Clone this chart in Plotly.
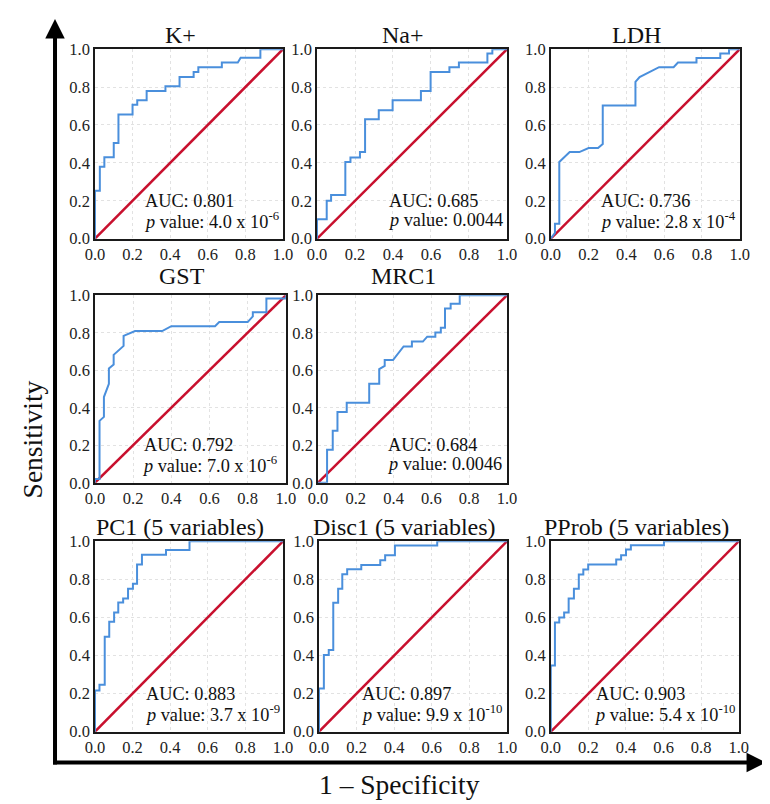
import plotly.graph_objects as go

# ---------------- data ----------------
panel_titles = ["K+", "Na+", "LDH", "GST", "MRC1",
                "PC1 (5 variables)", "Disc1 (5 variables)", "PProb (5 variables)"]
auc_values = ["0.801", "0.685", "0.736", "0.792", "0.684", "0.883", "0.897", "0.903"]
p_values = ["4.0 x 10<sup>-6</sup>", "0.0044", "2.8 x 10<sup>-4</sup>", "7.0 x 10<sup>-6</sup>",
            "0.0046", "3.7 x 10<sup>-9</sup>", "9.9 x 10<sup>-10</sup>", "5.4 x 10<sup>-10</sup>"]

k_fpr = [0, 0, 0.026, 0.026, 0.05, 0.05, 0.1, 0.1, 0.125, 0.125, 0.2, 0.2, 0.225, 0.225,
         0.275, 0.275, 0.375, 0.375, 0.45, 0.45, 0.525, 0.525, 0.55, 0.55, 0.675, 0.675,
         0.76, 0.775, 0.88, 0.88, 1.0]
k_tpr = [0, 0.253, 0.253, 0.38, 0.38, 0.43, 0.43, 0.505, 0.505, 0.655, 0.655, 0.707, 0.707, 0.73,
         0.73, 0.78, 0.78, 0.805, 0.805, 0.853, 0.853, 0.88, 0.88, 0.905, 0.905, 0.93,
         0.93, 0.955, 0.955, 1.0, 1.0]

na_fpr = [0, 0, 0.051, 0.051, 0.074, 0.074, 0.149, 0.149, 0.176, 0.176, 0.226, 0.226, 0.253, 0.253,
          0.325, 0.325, 0.398, 0.398, 0.547, 0.547, 0.598, 0.598, 0.697, 0.697, 0.747, 0.747,
          0.897, 0.897, 0.923, 0.923, 1.0]
na_tpr = [0, 0.103, 0.103, 0.2, 0.2, 0.23, 0.23, 0.405, 0.405, 0.428, 0.428, 0.457, 0.457, 0.63,
          0.63, 0.678, 0.678, 0.73, 0.73, 0.78, 0.78, 0.88, 0.88, 0.905, 0.905, 0.93,
          0.93, 0.978, 0.978, 1.0, 1.0]

ldh_fpr = [0, 0.022, 0.022, 0.045, 0.045, 0.1, 0.151, 0.2, 0.25, 0.275, 0.275, 0.448, 0.448,
           0.47, 0.573, 0.65, 0.673, 0.771, 0.771, 0.897, 0.897, 0.943, 0.943, 1.0]
ldh_tpr = [0, 0.03, 0.078, 0.078, 0.405, 0.457, 0.457, 0.478, 0.478, 0.5, 0.703, 0.703, 0.828,
           0.853, 0.905, 0.905, 0.93, 0.93, 0.953, 0.953, 0.978, 0.978, 1.0, 1.0]

gst_fpr = [0, 0, 0.024, 0.024, 0.047, 0.047, 0.073, 0.073, 0.098, 0.098, 0.15, 0.15, 0.21,
           0.352, 0.4, 0.629, 0.651, 0.80, 0.827, 0.827, 0.898, 0.898, 1.0, 1.0]
gst_tpr = [0, 0.02, 0.02, 0.33, 0.351, 0.457, 0.527, 0.609, 0.63, 0.682, 0.73, 0.783, 0.809,
           0.809, 0.835, 0.835, 0.857, 0.857, 0.887, 0.91, 0.91, 0.983, 0.983, 1.0]

mrc_fpr = [0, 0.048, 0.048, 0.078, 0.078, 0.103, 0.103, 0.152, 0.152, 0.271, 0.271, 0.324, 0.324,
           0.353, 0.353, 0.397, 0.453, 0.497, 0.497, 0.555, 0.578, 0.621, 0.621, 0.65, 0.65,
           0.672, 0.672, 0.702, 0.702, 0.75, 0.75, 1.0]
mrc_tpr = [0, 0, 0.176, 0.176, 0.277, 0.277, 0.377, 0.377, 0.427, 0.427, 0.528, 0.528, 0.606,
           0.623, 0.654, 0.654, 0.727, 0.727, 0.753, 0.753, 0.779, 0.779, 0.801, 0.801, 0.827,
           0.827, 0.929, 0.929, 0.955, 0.955, 1.0, 1.0]

pc1_fpr = [0, 0, 0.024, 0.024, 0.052, 0.052, 0.076, 0.076, 0.102, 0.102, 0.124, 0.124, 0.15, 0.15,
           0.176, 0.176, 0.202, 0.202, 0.224, 0.224, 0.25, 0.25, 0.378, 0.378, 0.503, 0.503, 1.0]
pc1_tpr = [0, 0.217, 0.217, 0.246, 0.246, 0.499, 0.499, 0.577, 0.577, 0.626, 0.626, 0.678, 0.678,
           0.70, 0.70, 0.751, 0.751, 0.777, 0.777, 0.878, 0.878, 0.93, 0.93, 0.955, 0.955, 1.0, 1.0]

disc_fpr = [0, 0, 0.026, 0.026, 0.052, 0.052, 0.076, 0.076, 0.102, 0.102, 0.124, 0.124, 0.15, 0.15,
            0.225, 0.225, 0.326, 0.326, 0.352, 0.352, 0.404, 0.404, 0.629, 0.629, 1.0]
disc_tpr = [0, 0.227, 0.227, 0.403, 0.403, 0.429, 0.429, 0.677, 0.677, 0.751, 0.751, 0.827, 0.827,
            0.853, 0.853, 0.876, 0.876, 0.90, 0.90, 0.927, 0.927, 0.978, 0.978, 1.0, 1.0]

pprob_fpr = [0, 0, 0.022, 0.022, 0.045, 0.045, 0.071, 0.071, 0.095, 0.095, 0.123, 0.123, 0.149,
             0.149, 0.173, 0.173, 0.199, 0.199, 0.348, 0.348, 0.374, 0.374, 0.40, 0.40, 0.426,
             0.426, 0.602, 0.602, 1.0]
pprob_tpr = [0, 0.348, 0.348, 0.574, 0.574, 0.60, 0.60, 0.626, 0.626, 0.70, 0.70, 0.751, 0.751,
             0.826, 0.826, 0.852, 0.852, 0.878, 0.878, 0.904, 0.904, 0.927, 0.927, 0.957, 0.957,
             0.979, 0.979, 1.0, 1.0]

roc_fpr = [k_fpr, na_fpr, ldh_fpr, gst_fpr, mrc_fpr, pc1_fpr, disc_fpr, pprob_fpr]
roc_tpr = [k_tpr, na_tpr, ldh_tpr, gst_tpr, mrc_tpr, pc1_tpr, disc_tpr, pprob_tpr]
diag = [0, 1]
tick_vals = [0, 0.2, 0.4, 0.6, 0.8, 1.0]
tick_text = ["0.0", "0.2", "0.4", "0.6", "0.8", "1.0"]

# ---------------- layout geometry (window pixels) ----------------
W, H = 770, 804


def px(x):
    return x / W


def py(y):
    return 1 - y / H


# left, right, top, bottom of each plotting panel
boxes = [(79, 272, 33, 227), (307, 502, 33, 227), (547, 741, 33, 227),
         (79, 275, 285, 477), (308, 502, 285, 477),
         (79, 272, 537, 732), (309, 502, 537, 732), (547, 740, 537, 732)]
# distance of the title centre above each panel
title_gap = [15, 15, 15, 20, 20, 15, 15, 15]
# left edge of the AUC / p-value text block
text_left = [127, 377.5, 595.5, 125.5, 376.5, 128, 350, 589.5]

FONT = "Liberation Serif"
BLUE = "#4a8fdc"
RED = "#c8102e"
TXT = 18.3

fig = go.Figure()
layout = dict(width=W, height=H, margin=dict(l=0, r=0, t=0, b=0),
              paper_bgcolor="white", plot_bgcolor="white", showlegend=False,
              font=dict(family=FONT, color="#111", size=16))
annotations = []
for i, (l, r, t, b) in enumerate(boxes):
    n = "" if i == 0 else str(i + 1)
    xa, ya = "x" + n, "y" + n
    common = dict(range=[0, 1], tickvals=tick_vals, ticktext=tick_text, showgrid=True,
                  gridcolor="#e2e2e2", griddash="dot", gridwidth=1, zeroline=False,
                  showline=True, linecolor="#1a1a1a", linewidth=1.5, mirror=True,
                  ticks="", tickfont=dict(family=FONT, size=16.5, color="#222"), fixedrange=True)
    layout["xaxis" + n] = dict(domain=[px(l), px(r)], anchor=ya, **common)
    layout["yaxis" + n] = dict(domain=[py(b), py(t)], anchor=xa, **common)
    fig.add_trace(go.Scatter(x=diag, y=diag, mode="lines", xaxis=xa, yaxis=ya,
                             line=dict(color=RED, width=2.5), hoverinfo="skip", cliponaxis=False))
    fig.add_trace(go.Scatter(x=roc_fpr[i], y=roc_tpr[i], mode="lines", xaxis=xa, yaxis=ya,
                             line=dict(color=BLUE, width=2), cliponaxis=False))
    annotations.append(dict(text=panel_titles[i], xref="paper", yref="paper",
                            x=px((l + r) / 2 - 9), y=py(t - title_gap[i]),
                            xanchor="center", yanchor="middle",
                            showarrow=False, font=dict(family=FONT, size=24, color="#111")))
    annotations.append(dict(text="AUC: " + auc_values[i], xref="paper", yref="paper",
                            x=px(text_left[i] + 1.5), y=py(b - 39), xanchor="left",
                            yanchor="middle", showarrow=False,
                            font=dict(family=FONT, size=TXT, color="#111")))
    annotations.append(dict(text="<i>p</i> value: " + p_values[i], xref="paper", yref="paper",
                            x=px(text_left[i]), y=py(b - 19), xanchor="left", yanchor="middle",
                            showarrow=False, font=dict(family=FONT, size=TXT, color="#111")))

annotations.append(dict(text="Sensitivity", xref="paper", yref="paper", x=px(15), y=py(433),
                        textangle=-90, showarrow=False, xanchor="center", yanchor="middle",
                        font=dict(family=FONT, size=27.5, color="#111")))
annotations.append(dict(text="1 \u2013 Specificity", xref="paper", yref="paper", x=px(392),
                        y=py(786), showarrow=False, xanchor="center", yanchor="middle",
                        font=dict(family=FONT, size=27.5, color="#111")))
layout["annotations"] = annotations

ax_x, ax_y = 38, 763.5
shapes = [
    dict(type="line", xref="paper", yref="paper", x0=px(ax_x), x1=px(ax_x),
         y0=py(ax_y + 2), y1=py(20), line=dict(color="black", width=4)),
    dict(type="line", xref="paper", yref="paper", x0=px(ax_x - 2), x1=px(750),
         y0=py(ax_y), y1=py(ax_y), line=dict(color="black", width=4)),
    dict(type="path", xref="paper", yref="paper", fillcolor="black", line=dict(width=0),
         path=f"M {px(ax_x - 10)},{py(22)} L {px(ax_x + 10)},{py(22)} L {px(ax_x)},{py(2)} Z"),
    dict(type="path", xref="paper", yref="paper", fillcolor="black", line=dict(width=0),
         path=f"M {px(748)},{py(ax_y - 10)} L {px(748)},{py(ax_y + 10)} L {px(768)},{py(ax_y)} Z"),
]
layout["shapes"] = shapes
fig.update_layout(**layout)
fig.write_html("out.html")
